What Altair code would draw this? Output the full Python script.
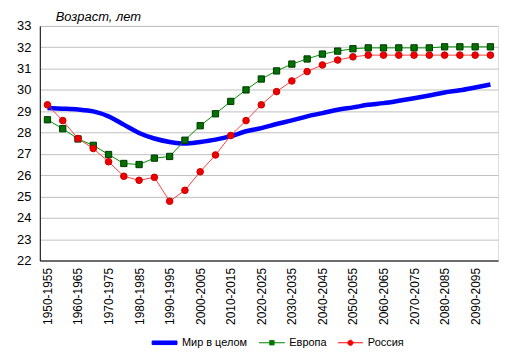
import altair as alt
import pandas as pd

periods = ["1950-1955", "1955-1960", "1960-1965", "1965-1970", "1970-1975",
           "1975-1980", "1980-1985", "1985-1990", "1990-1995", "1995-2000",
           "2000-2005", "2005-2010", "2010-2015", "2015-2020", "2020-2025",
           "2025-2030", "2030-2035", "2035-2040", "2040-2045", "2045-2050",
           "2050-2055", "2055-2060", "2060-2065", "2065-2070", "2070-2075",
           "2075-2080", "2080-2085", "2085-2090", "2090-2095", "2095-2100"]

world = [29.15, 29.12, 29.08, 28.99, 28.76, 28.37, 27.98, 27.72, 27.56, 27.48,
         27.56, 27.67, 27.83, 28.06, 28.21, 28.40, 28.57, 28.76, 28.91, 29.07,
         29.18, 29.30, 29.38, 29.49, 29.61, 29.74, 29.88, 29.98, 30.11, 30.25]

europe = [28.60, 28.18, 27.70, 27.40, 26.97, 26.55, 26.50, 26.80, 26.88, 27.64,
          28.32, 28.88, 29.46, 30.00, 30.51, 30.89, 31.21, 31.45, 31.68, 31.82,
          31.93, 31.97, 31.97, 31.97, 31.97, 31.97, 32.02, 32.02, 32.02, 32.02]

russia = [29.30, 28.56, 27.72, 27.25, 26.63, 25.95, 25.76, 25.90, 24.78, 25.29,
          26.16, 26.95, 27.86, 28.56, 29.30, 29.92, 30.42, 30.86, 31.17, 31.40,
          31.55, 31.63, 31.63, 31.63, 31.63, 31.63, 31.63, 31.63, 31.63, 31.63]

series_names = ["Мир в целом", "Европа", "Россия"]
y_ticks = list(range(22, 34))

rows = []
for name, vals in zip(series_names, [world, europe, russia]):
    for p, v in zip(periods, vals):
        rows.append({"period": p, "series": name, "value": v})
df = pd.DataFrame(rows)

FONT = "Liberation Sans"

x_enc = alt.X(
    "period:N", sort=periods,
    scale=alt.Scale(type="point", padding=0.5),
    axis=alt.Axis(values=periods[::2], labelAngle=270, labelFontSize=12,
                  labelPadding=7, ticks=False, domainColor="black",
                  domainWidth=1, grid=False, title=None, labelColor="black",
                  labelFont=FONT),
)
y_enc = alt.Y(
    "value:Q",
    scale=alt.Scale(domain=[22, 33], nice=False, zero=False),
    axis=alt.Axis(values=y_ticks, labelFontSize=13, labelPadding=9, ticks=False,
                  domainColor="black", domainWidth=1, grid=True,
                  gridColor="#c0c0c0", gridWidth=1, title=None,
                  labelColor="black", labelFont=FONT),
)

base = alt.Chart(df).encode(x=x_enc, y=y_enc)

legend_paths = [
    "M-2.5,-0.36H2.5V0.36H-2.5Z",
    "M-2.6,0H2.6M-0.44,-0.44H0.44V0.44H-0.44Z",
    "M-2.5,0H2.5M0.52,0A0.52,0.52,0,1,1,-0.52,0A0.52,0.52,0,1,1,0.52,0Z",
]
leg = alt.Legend(title=None, orient="none", legendX=120, legendY=313,
                 direction="horizontal", symbolSize=100, symbolStrokeWidth=1,
                 symbolOpacity=1, labelFontSize=11, labelFont=FONT,
                 labelColor="black", labelOffset=12, columnPadding=9,
                 padding=0)

legend_layer = base.mark_point(filled=True, opacity=0).encode(
    fill=alt.Fill("series:N", sort=series_names,
                  scale=alt.Scale(domain=series_names,
                                  range=["#0000ff", "#007000", "#ee0000"]),
                  legend=leg),
    stroke=alt.Stroke("series:N", sort=series_names,
                      scale=alt.Scale(domain=series_names,
                                      range=["#0000ff", "#008000", "#ff0000"]),
                      legend=leg),
    shape=alt.Shape("series:N", sort=series_names,
                    scale=alt.Scale(domain=series_names, range=legend_paths),
                    legend=leg),
)

world_line = base.transform_filter(alt.datum.series == series_names[0]).mark_line(
    color="#0000ff", strokeWidth=4.5, interpolate="monotone")
eu_line = base.transform_filter(alt.datum.series == series_names[1]).mark_line(
    color="#009000", strokeWidth=1)
eu_pts = base.transform_filter(alt.datum.series == series_names[1]).mark_square(
    size=40, color="#007000", stroke="#003800", strokeWidth=1, opacity=1)
ru_line = base.transform_filter(alt.datum.series == series_names[2]).mark_line(
    color="#ff4040", strokeWidth=1)
ru_pts = base.transform_filter(alt.datum.series == series_names[2]).mark_circle(
    size=44, color="#ee0000", stroke="#cc0000", strokeWidth=1, opacity=1)

chart = alt.layer(
    legend_layer, world_line, eu_line, eu_pts, ru_line, ru_pts
).properties(
    width=461, height=236,
    title=alt.Title("Возраст, лет", anchor="start", frame="group", fontSize=13,
                    fontStyle="italic", fontWeight="normal", font=FONT,
                    color="black", offset=-4, dx=16),
    padding={"left": 8, "top": 2, "right": 8, "bottom": 0},
).configure_view(
    stroke="#888888", strokeWidth=1
).configure(background="white")

chart.save("out.html", embed_options={"renderer": "svg", "actions": False})
